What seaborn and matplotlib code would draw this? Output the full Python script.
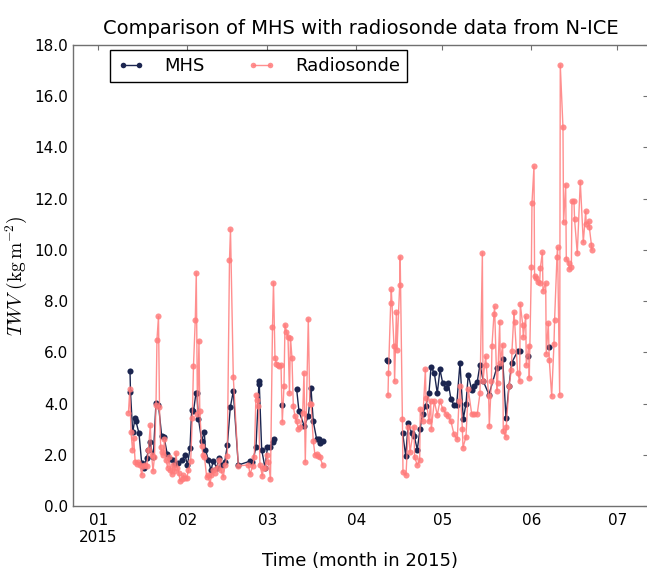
import matplotlib
matplotlib.use("Agg")
import matplotlib.pyplot as plt
from matplotlib.lines import Line2D
import numpy as np
import pandas as pd
import seaborn as sns

# ---------------- data (days since 2015-01-01, TWV in kg m-2) ----------------
# None marks a break in the series
rs_days = [10.53, 10.99, 11.41, 11.93, 12.38, 12.87, 13.43, 14.02, 14.54, 15.14,
           15.66, 16.29, 16.88, 17.51, 18.14, 18.59, 19.08, 19.60, 20.13, 20.47,
           21.00, 21.35, 21.76, 22.22, 22.67, 23.09, 23.61, 24.21, 24.66, 25.18,
           25.60, 26.06, 26.58, 27.10, 27.62, 28.08, 28.50, 29.09, 29.65, 30.24,
           30.83, 31.46, 32.23, 32.79, 33.21, 33.83, 34.18, 34.60, 35.12, 35.40,
           36.07, 36.52, 37.04, 37.81, 38.26, 38.96, 39.48, 40.11, 40.70, 41.40,
           42.20, 42.80, 43.60, 44.19, 45.00, 45.76, 46.11, 47.09, 48.83, 52.39,
           52.91, 53.85, 54.41, 55.01, 55.46, 55.88, 56.40, 57.20, 57.62, 58.14,
           58.84, 59.37, 60.06, 60.76, 61.11, 61.63, 62.16, 62.68, 63.20, 63.73,
           64.18, 64.77, 65.12, 65.64, 66.17, 66.69, 67.04, 67.56, 68.02, 68.61,
           69.20, 69.83, 70.53, 71.29, 71.75, 72.20, 73.25, 73.77, 74.19, 74.99,
           75.58, 76.18, 76.81, 77.33, 78.27,
           None,
           101.05, 101.22, 101.99, 102.20, 103.14, 103.35, 103.98, 104.19, 105.13, 105.30,
           106.07, 106.28, 107.33, 108.13, 108.72, 110.12, 110.33, 111.27, 112.10, 112.31,
           113.15, 114.09, 114.30, 115.35, 115.94, 116.15, 117.20, 118.24, 119.18, 120.13,
           121.28, 122.08, 123.02, 124.07, 125.22, 125.81, 126.16, 127.00, 127.20, 128.25,
           129.05, 130.24, 131.15, 132.19, 133.13, 133.97, 134.18, 135.12, 135.33, 136.17,
           136.38, 137.11, 137.32, 138.02, 138.23, 139.06, 139.27, 140.01, 140.22, 141.05,
           141.26, 142.10, 142.31, 143.25, 144.09, 144.30, 145.00, 145.21, 146.29, 146.98,
           147.19, 148.03, 148.24, 149.08, 149.29, 150.12, 150.33, 151.06, 151.27, 151.97,
           152.18, 152.67, 153.26, 153.96, 154.17, 154.90, 155.11, 156.05, 156.26, 156.96,
           157.31, 158.14, 158.95, 159.16, 159.99, 160.20, 160.93, 161.14, 162.08, 162.29,
           163.03, 163.24, 164.07, 164.28, 165.01, 165.22, 165.92, 166.13, 167.07, 168.12,
           169.17, 170.00, 170.21, 171.05, 171.26, 171.99, 172.20]
rs_twv = [3.65, 4.55, 2.90, 2.20, 2.65, 1.70, 1.65, 1.70, 1.60, 1.22,
          1.55, 1.60, 1.57, 2.20, 3.15, 2.00, 1.37, 1.90, 3.95, 6.50,
          7.40, 3.85, 2.30, 2.10, 2.00, 2.60, 1.80, 1.50, 1.90, 1.40,
          1.24, 1.60, 1.35, 2.06, 1.50, 1.30, 0.98, 1.05, 1.20, 1.10,
          1.10, 1.40, 1.76, 3.42, 5.48, 7.27, 9.10, 3.60, 6.45, 3.70,
          2.35, 2.00, 1.90, 1.13, 1.20, 0.86, 1.20, 1.40, 1.30, 1.50,
          1.80, 1.40, 1.13, 1.60, 1.96, 9.60, 10.80, 5.03, 1.57, 1.60,
          1.24, 1.55, 1.90, 4.35, 4.15, 3.90, 1.60, 1.18, 1.50, 1.50,
          2.00, 1.70, 1.05, 6.97, 8.72, 5.78, 5.55, 5.50, 5.45, 5.50,
          3.28, 4.68, 7.08, 6.80, 6.60, 4.40, 6.57, 5.78, 3.90, 3.50,
          3.30, 3.00, 3.10, 3.64, 5.20, 1.72, 7.30, 4.00, 4.00, 2.54,
          2.00, 2.02, 1.95, 1.90, 1.60,
          None,
          4.32, 5.20, 7.92, 8.46, 6.26, 4.87, 7.56, 6.10, 8.63, 9.73,
          3.38, 1.33, 1.20, 3.10, 2.10, 3.10, 1.90, 1.60, 1.78, 3.80,
          3.30, 5.35, 4.20, 3.30, 4.10, 3.00, 4.10, 3.55, 4.10, 3.80,
          3.60, 3.50, 3.30, 2.80, 2.60, 4.10, 4.70, 3.00, 2.28, 2.70,
          4.55, 3.60, 3.60, 3.60, 4.40, 9.89, 4.90, 5.84, 5.50, 4.29,
          3.12, 4.87, 6.26, 7.50, 7.79, 4.50, 4.80, 7.20, 5.60, 6.30,
          2.93, 2.70, 3.10, 4.68, 5.30, 6.07, 7.57, 7.20, 5.20, 4.87,
          7.89, 7.08, 6.60, 7.40, 5.50, 6.26, 5.00, 9.34, 11.83, 13.26,
          8.98, 8.90, 8.75, 8.70, 9.28, 9.90, 8.40, 8.70, 5.95, 7.14,
          5.70, 4.29, 6.34, 7.27, 9.73, 10.10, 4.35, 17.22, 14.79, 11.07,
          12.55, 9.64, 9.50, 9.25, 9.32, 11.90, 11.90, 11.19, 9.86, 12.67,
          10.29, 11.51, 11.00, 11.12, 10.90, 10.21, 9.99]

mhs_days = [11.06, 11.23, 12.00, 12.80, 13.15, 14.20, 15.14, 15.94, 16.88, 17.51,
            18.03, 19.18, 20.13, 21.00, 22.11, 22.92, 24.07, 25.01, 26.16, 26.93,
            27.90, 29.19, 30.24, 31.11, 31.98, 32.58, 33.21, 34.08, 34.36, 34.95,
            36.07, 36.97, 37.39, 38.37, 39.31, 40.11, 41.30, 42.20, 43.15, 44.09,
            45.00, 46.04, 47.09, 48.83, 52.91, 53.78, 55.01, 56.05, 56.16, 56.99,
            58.14, 59.02, 59.89, 61.04, 61.14,
            None, 63.97, None,
            69.20, 70.00, 71.85, 73.25, 74.19, 74.99, 76.18, 76.98, 77.50, 78.27,
            None,
            100.80, 100.94,
            None,
            106.17, 107.22, 108.13, 109.31, 110.22, 111.27, 112.21, 113.15, 114.20, 115.35,
            116.05, 117.20, 118.24, 119.18, 120.13, 121.28, 122.08, 123.02, 124.07, 125.01,
            126.16, 127.31, 128.25, 129.05, 130.24, 131.15, 132.19, 133.13, 134.29, 136.27,
            138.96, 140.11, 141.05, 142.20, 143.25, 144.19, 146.29, 147.09,
            None, 149.98, None, 157.20]
mhs_twv = [5.29, 4.45, 2.87, 3.42, 3.30, 2.84, 1.67, 1.50, 1.87, 2.20,
           2.50, 1.90, 4.04, 3.95, 2.73, 2.70, 2.02, 1.85, 1.80, 1.65,
           1.67, 1.80, 1.98, 1.60, 2.25, 3.73, 3.70, 4.42, 4.43, 3.40,
           2.55, 2.89, 2.20, 1.80, 1.40, 1.76, 1.50, 1.87, 1.60, 1.70,
           2.37, 3.85, 4.48, 1.60, 1.75, 1.70, 2.30, 4.87, 4.75, 2.20,
           1.50, 2.30, 2.30, 2.50, 2.60,
           None, 3.93, None,
           4.55, 3.70, 3.12, 3.50, 4.61, 3.30, 2.60, 2.60, 2.45, 2.54,
           None,
           5.72, 5.65,
           None,
           2.84, 1.96, 3.23, 2.85, 2.73, 2.20, 3.00, 3.60, 3.90, 4.42,
           5.42, 5.20, 4.40, 5.33, 4.80, 4.60, 4.80, 4.16, 3.95, 3.95,
           5.59, 3.38, 4.00, 5.13, 4.53, 4.70, 4.85, 5.52, 4.87, 4.35,
           5.39, 5.45, 5.75, 3.45, 4.68, 5.59, 6.05, 6.07,
           None, 5.84, None, 6.21]

month_ticks = ["2015-01-01", "2015-02-01", "2015-03-01", "2015-04-01",
               "2015-05-01", "2015-06-01", "2015-07-01"]
y_ticks = [0, 2, 4, 6, 8, 10, 12, 14, 16, 18]

TITLE = "Comparison of MHS with radiosonde data from N-ICE"
XLABEL = "Time (month in 2015)"
YLABEL = r"$TWV\ (\mathrm{kg\,m^{-2}})$"

NAVY = "#1b2550"
PINK = "#ff7b7b"
SPINE = "#707070"

origin = pd.Timestamp("2015-01-01")


def to_frame(days, vals):
    seg, rows = 0, []
    for d, v in zip(days, vals):
        if d is None or v is None:
            seg += 1
            continue
        rows.append((origin + pd.Timedelta(days=d), v, seg))
    return pd.DataFrame(rows, columns=["time", "twv", "seg"])


mhs_df = to_frame(mhs_days, mhs_twv)
rs_df = to_frame(rs_days, rs_twv)

sns.set_style("white")
plt.rcParams["font.family"] = ["DejaVu Sans"]
plt.rcParams["mathtext.fontset"] = "cm"
plt.rcParams["text.color"] = "black"
plt.rcParams["axes.labelcolor"] = "black"
plt.rcParams["xtick.color"] = "black"
plt.rcParams["ytick.color"] = "black"

fig = plt.figure(figsize=(6.47, 5.70), dpi=100)
ax = fig.add_axes([73 / 647, 1 - 506 / 570, 575 / 647, 461 / 570])

sns.lineplot(data=mhs_df, x="time", y="twv", units="seg", estimator=None,
             color=NAVY, marker="o", markersize=4.4, markeredgewidth=0,
             linewidth=1.0, ax=ax, legend=False)
sns.lineplot(data=rs_df, x="time", y="twv", units="seg", estimator=None,
             color=PINK, marker="o", markersize=4.4, markeredgewidth=0,
             linewidth=1.0, alpha=0.85, ax=ax, legend=False)

ax.set_xlim(origin + pd.Timedelta(days=-8.82), origin + pd.Timedelta(days=191.74))
ax.set_ylim(0, 18)

ticks = pd.to_datetime(month_ticks)
ax.set_xticks(ticks)
ax.set_xticklabels([t.strftime("%m") + (f"\n{t.year}" if t.month == 1 else "") for t in ticks])
ax.set_yticks(y_ticks)
ax.set_yticklabels([f"{v:.1f}" for v in y_ticks])

for s in ax.spines.values():
    s.set_color(SPINE)
    s.set_linewidth(1.0)
ax.tick_params(direction="in", top=True, right=True, length=3.5, width=0.8,
               color=SPINE, labelsize=11, labelcolor="black")
ax.tick_params(axis="y", pad=3.5)
ax.tick_params(axis="x", pad=5)

ax.set_title(TITLE, fontsize=14, pad=8, color="black")
ax.set_xlabel(XLABEL, fontsize=13, labelpad=5, color="black")
ax.set_ylabel(YLABEL, fontsize=14, labelpad=4, color="black")

handles = [Line2D([], [], color=NAVY, marker="o", markersize=4, markeredgewidth=0, lw=1),
           Line2D([], [], color=PINK, marker="o", markersize=4, markeredgewidth=0, lw=1, alpha=0.85)]
leg = ax.legend(handles, ["MHS", "Radiosonde"], loc="upper left",
                bbox_to_anchor=(37 / 575, 1 - 5 / 461), borderaxespad=0,
                ncol=2, numpoints=2, fontsize=13, handlelength=1.5,
                handletextpad=1.1, columnspacing=2.4, fancybox=False,
                framealpha=1, edgecolor="black", borderpad=0.4)
leg.get_frame().set_linewidth(1.0)
for t in leg.get_texts():
    t.set_color("black")

fig.savefig("out.png", dpi=100)
